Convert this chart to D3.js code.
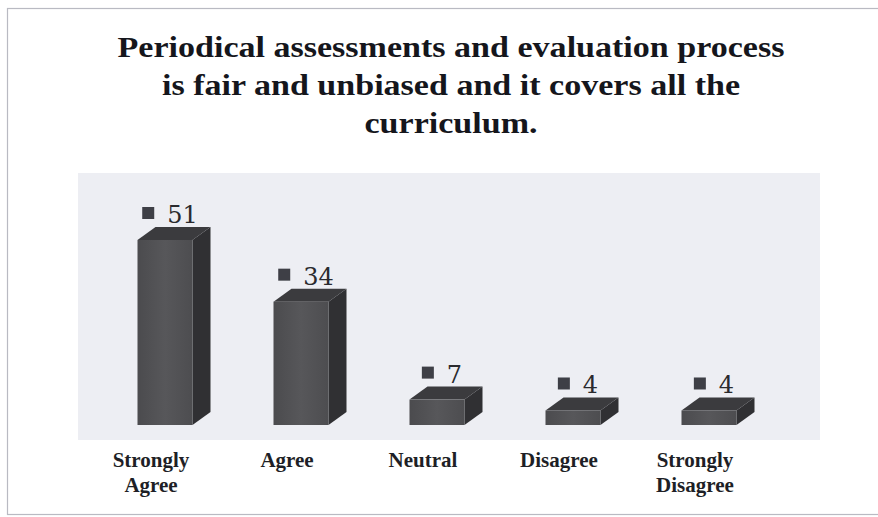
<!DOCTYPE html>
<html>
<head>
<meta charset="utf-8">
<script src="https://cdn.jsdelivr.net/npm/d3@7/dist/d3.min.js"></script>
<style>
  html, body { margin: 0; padding: 0; background: #ffffff; }
  svg { display: block; }
</style>
</head>
<body>
<svg id="chart" width="878" height="517"></svg>
<script>
// Survey responses
const categories = ["Strongly Agree", "Agree", "Neutral", "Disagree", "Strongly Disagree"];
const categoryLines = [["Strongly", "Agree"], ["Agree"], ["Neutral"], ["Disagree"], ["Strongly", "Disagree"]];
const values = [51, 34, 7, 4, 4];
const titleLines = [
  "Periodical assessments and evaluation process",
  "is fair and unbiased and it covers all the",
  "curriculum."
];

const svg = d3.select("#chart");
const W = 878, H = 517;

// outer frame
svg.append("rect")
  .attr("x", 7.5).attr("y", 8.5)
  .attr("width", W + 10).attr("height", 506)
  .attr("fill", "#ffffff")
  .attr("stroke", "#b9bac2").attr("stroke-width", 1.2);

// title (slightly widened serif)
const titleCx = 451;
const title = svg.append("text")
  .attr("text-anchor", "middle")
  .attr("transform", `translate(${titleCx},0) scale(1.135,1) translate(${-titleCx},0)`)
  .attr("font-family", "'Liberation Serif', 'Times New Roman', serif")
  .attr("font-weight", "bold")
  .attr("font-size", 30)
  .attr("fill", "#15161c");
titleLines.forEach((t, i) => {
  title.append("tspan").attr("x", titleCx).attr("y", 57 + i * 38).text(t);
});

// plot area
const plot = { left: 78, right: 820, top: 173, bottom: 440 };
svg.append("rect")
  .attr("x", plot.left).attr("y", plot.top)
  .attr("width", plot.right - plot.left).attr("height", plot.bottom - plot.top)
  .attr("fill", "#edeef3");

// scales
const x = d3.scaleBand()
  .domain(categories)
  .range([97, 777])
  .paddingInner(0.6).paddingOuter(0.3);
const baseY = 425;
const y = d3.scaleLinear().domain([0, 51]).range([baseY, 240]);

const depthX = 18, depthY = -13;
const barW = 55;

const defs = svg.append("defs");
const gFront = defs.append("linearGradient").attr("id", "front").attr("x1", 0).attr("x2", 1);
gFront.append("stop").attr("offset", "0%").attr("stop-color", "#4b4b4e");
gFront.append("stop").attr("offset", "50%").attr("stop-color", "#57575a");
gFront.append("stop").attr("offset", "100%").attr("stop-color", "#4d4d50");

const bars = svg.append("g");
categories.forEach((c, i) => {
  const cx = x(c) + x.bandwidth() / 2;
  const x0 = cx - barW / 2, x1 = cx + barW / 2;
  const yt = y(values[i]);
  const g = bars.append("g");
  // side face
  g.append("path")
    .attr("d", `M${x1},${yt} L${x1 + depthX},${yt + depthY} L${x1 + depthX},${baseY + depthY} L${x1},${baseY} Z`)
    .attr("fill", "#303033");
  // top face
  g.append("path")
    .attr("d", `M${x0},${yt} L${x0 + depthX},${yt + depthY} L${x1 + depthX},${yt + depthY} L${x1},${yt} Z`)
    .attr("fill", "#3b3b3e");
  // front face
  g.append("rect")
    .attr("x", x0).attr("y", yt)
    .attr("width", barW).attr("height", baseY - yt)
    .attr("fill", "url(#front)");

  // value label: marker + number
  const baseline = yt + depthY - 4;
  const lbl = svg.append("g");
  const txt = lbl.append("text")
    .attr("font-family", "'DejaVu Serif', serif")
    .attr("font-size", 24)
    .attr("fill", "#2a2a2e")
    .attr("y", baseline)
    .text(values[i]);
  const tw = txt.node().getComputedTextLength();
  const sq = 12, gap = 13;
  const total = sq + gap + tw;
  const left = cx + 5 - total / 2;
  lbl.append("rect")
    .attr("x", left).attr("y", baseline - 16)
    .attr("width", sq).attr("height", sq)
    .attr("fill", "#3e3f46");
  txt.attr("x", left + sq + gap);

  // category label
  const cl = svg.append("text")
    .attr("text-anchor", "middle")
    .attr("font-family", "'Liberation Serif', 'Times New Roman', serif")
    .attr("font-weight", "bold")
    .attr("font-size", 21)
    .attr("fill", "#1e1f26");
  categoryLines[i].forEach((t, j) => {
    cl.append("tspan").attr("x", cx - 14).attr("y", 467 + j * 25).text(t);
  });
});
</script>
</body>
</html>
